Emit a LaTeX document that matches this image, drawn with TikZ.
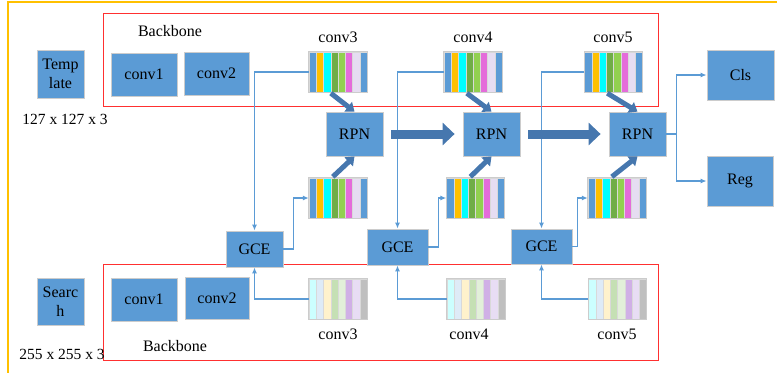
\documentclass[tikz,border=0pt]{standalone}
\usepackage{fontspec}
\setmainfont{Liberation Serif}
\usetikzlibrary{arrows.meta}
\definecolor{bx}{HTML}{5B9BD5}
\definecolor{ta}{HTML}{4677AE}
\definecolor{yel}{HTML}{FFC000}
\definecolor{redl}{HTML}{FF3030}
\definecolor{sb}{HTML}{5B9BD5}
\definecolor{so}{HTML}{FFC000}
\definecolor{sc}{HTML}{00FFFF}
\definecolor{sdg}{HTML}{70AD47}
\definecolor{slg}{HTML}{92D050}
\definecolor{sm}{HTML}{E46CDA}
\definecolor{sl}{HTML}{E6DDF2}
\definecolor{pc}{HTML}{CCFFFF}
\definecolor{pb}{HTML}{DEEBF7}
\definecolor{py}{HTML}{FFF2CC}
\definecolor{pg}{HTML}{C5E0B4}
\definecolor{plg}{HTML}{E2F0D9}
\definecolor{pp}{HTML}{D0B0E6}
\definecolor{pl}{HTML}{E8DDF4}
\definecolor{pgr}{HTML}{BFBFBF}
\newcommand\stripeblock[4]{%
  \node[stripenode] (#1) at (#2,#3) {};
  \foreach \c [count=\i from 0] in {#4} {\fill[\c, draw=gray!30, line width=0.4pt] ({#2-29+\i*7.25},{#3-20}) rectangle ++(7.25,40);}
  \draw[gray!40, line width=0.8pt] (#1.north west) rectangle (#1.south east);
}
\begin{document}
\begin{tikzpicture}[x=1pt,y=-1pt,
  font=\rmfamily\fontsize{16}{19}\selectfont,
  box/.style={fill=bx, draw=gray!40, line width=0.8pt, inner sep=0pt, align=center},
  stripenode/.style={minimum width=58pt, minimum height=40pt, inner sep=0pt, draw=none},
  conn/.style={draw=bx, line width=1.3pt, -{Latex[length=6pt,width=5pt]}},
  thickarr/.style={draw=ta, line width=9pt, -{Triangle[length=12pt,width=22pt]}, shorten <=8pt, shorten >=8pt},
  diag/.style={draw=ta, line width=5pt, -{Triangle[length=8pt,width=12pt]}},
  lbl/.style={inner sep=0pt}]
\useasboundingbox (0,0) rectangle (777,373);
% frame
\draw[yel, line width=2pt] (777,2) -- (8,2) -- (8,373);
% red backbone boxes
\draw[redl, line width=1pt] (103,13) rectangle (658,106);
\draw[redl, line width=1pt] (103,264) rectangle (658,360);
% inputs
\node[box, minimum width=47pt, minimum height=48pt] (tmp) at (60.5,74) {Temp\\late};
\node[box, minimum width=47pt, minimum height=47pt] (srch) at (60.5,301.5) {Searc\\h};
\node[lbl, font=\rmfamily\fontsize{15.5}{18}\selectfont] (tdim) at (65,119) {127 x 127 x 3};
\node[lbl, font=\rmfamily\fontsize{15.5}{18}\selectfont] (sdim) at (62,354) {255 x 255 x 3};
% backbone labels
\node[lbl] (bbt) at (170,31) {Backbone};
\node[lbl] (bbb) at (175,346) {Backbone};
% conv boxes
\node[box, minimum width=66pt, minimum height=43pt] (c1t) at (144,74.5) {conv1};
\node[box, minimum width=65pt, minimum height=43pt] (c2t) at (216.5,73.5) {conv2};
\node[box, minimum width=66pt, minimum height=43pt] (c1b) at (144,299.5) {conv1};
\node[box, minimum width=64pt, minimum height=42pt] (c2b) at (217,298) {conv2};
% stripe blocks
\stripeblock{s3t}{338}{72}{sb,so,sc,sdg,slg,sm,sl,sb}
\stripeblock{s4t}{473}{72}{sb,so,sc,sdg,slg,sm,sl,sb}
\stripeblock{s5t}{613.5}{72}{sb,so,sc,sdg,slg,sm,sl,sb}
\stripeblock{s3m}{338}{198}{sb,so,sc,sdg,slg,sm,sl,sb}
\stripeblock{s4m}{475.5}{198}{sb,so,sc,sdg,slg,sm,sl,sb}
\stripeblock{s5m}{617}{198}{sb,so,sc,sdg,slg,sm,sl,sb}
\stripeblock{s3b}{338}{299}{pc,pb,py,pg,plg,pp,pl,pgr}
\stripeblock{s4b}{476}{299}{pc,pb,py,pg,plg,pp,pl,pgr}
\stripeblock{s5b}{617.5}{299}{pc,pb,py,pg,plg,pp,pl,pgr}
% stripe labels
\node[lbl] (l3t) at (338,37) {conv3};
\node[lbl] (l4t) at (473,37) {conv4};
\node[lbl] (l5t) at (613,37) {conv5};
\node[lbl] (l3b) at (338,334) {conv3};
\node[lbl] (l4b) at (469,334) {conv4};
\node[lbl] (l5b) at (617,334) {conv5};
% RPN
\node[box, minimum width=57pt, minimum height=44pt] (rpn1) at (354.5,134) {RPN};
\node[box, minimum width=57pt, minimum height=44pt] (rpn2) at (491.5,134) {RPN};
\node[box, minimum width=57pt, minimum height=44pt] (rpn3) at (637.5,134) {RPN};
% outputs
\node[box, minimum width=67pt, minimum height=50pt] (cls) at (740.5,75) {Cls};
\node[box, minimum width=66pt, minimum height=50pt] (reg) at (740,181) {Reg};
% GCE
\node[box, minimum width=57pt, minimum height=36pt] (gce1) at (254.5,249) {GCE};
\node[box, minimum width=61pt, minimum height=36pt] (gce2) at (397.5,247) {GCE};
\node[box, minimum width=61pt, minimum height=35pt] (gce3) at (541.5,246.5) {GCE};
% thin connectors
\draw[conn] (s3t.west) -| (gce1.north);
\draw[conn] (s4t.west) -| (gce2.north);
\draw[conn] (s5t.west) -| (gce3.north);
\draw[conn] (s3b.west) -| (gce1.south);
\draw[conn] (s4b.west) -| (gce2.south);
\draw[conn] (s5b.west) -| (gce3.south);
\draw[conn] (gce1.east) -- ++(10,0) |- (s3m.west);
\draw[conn] (gce2.east) -- ++(10,0) |- (s4m.west);
\draw[conn] (gce3.east) -- ++(5,0) |- (s5m.west);
\draw[conn] (rpn3.east) -- ++(10,0) |- (cls.west);
\draw[conn] (rpn3.east) -- ++(10,0) |- (reg.west);
% thick arrows
\draw[thickarr] (rpn1) -- (rpn2);
\draw[thickarr] (rpn2) -- (rpn3);
\draw[diag] ([xshift=22pt,yshift=-1pt]s3t.south west) -- (rpn1.north);
\draw[diag] ([xshift=23pt,yshift=-1pt]s4t.south west) -- (rpn2.north);
\draw[diag] ([xshift=23pt,yshift=-1pt]s5t.south west) -- (rpn3.north);
\draw[diag] ([xshift=24pt,yshift=1pt]s3m.north west) -- (rpn1.south);
\draw[diag] ([xshift=24pt,yshift=1pt]s4m.north west) -- (rpn2.south);
\draw[diag] ([xshift=24pt,yshift=1pt]s5m.north west) -- (rpn3.south);
\end{tikzpicture}
\end{document}
